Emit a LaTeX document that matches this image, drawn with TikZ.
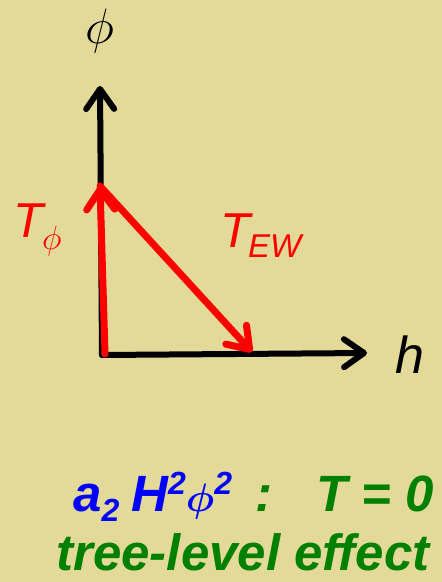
\documentclass[tikz,border=0pt]{standalone}
\usepackage{amsmath}
\usepackage{bm}
\usepackage{graphicx}
\usepackage{fontspec}
\setmainfont{Liberation Sans}
\usetikzlibrary{arrows.meta}

\definecolor{slidebg}{RGB}{227,217,152}
\definecolor{darkgreen}{RGB}{0,128,0}

% math phi scaled up from \Huge
\newcommand{\bigphi}[1]{\scalebox{#1}{\fontsize{24.88}{25}\selectfont$\phi$}}
\newcommand{\bigboldphi}[1]{\scalebox{#1}{\fontsize{24.88}{25}\selectfont$\boldsymbol{\phi}$}}

\begin{document}
\begin{tikzpicture}[x=1pt, y=-1pt,
  barb/.style={-{Straight Barb[length=20pt, width=28pt, line cap=round, line join=round]}},
  axis/.style={barb, draw=black, line width=6pt, line cap=round, line join=round},
  vec/.style={barb, draw=red, line width=7pt, line cap=round, line join=round},
  lbl/.style={inner sep=0pt, font=\fontsize{49}{49}\selectfont\itshape},
  bigtext/.style={inner sep=0pt, font=\fontsize{51}{51}\selectfont\bfseries\itshape}
]
\fill[slidebg] (0,0) rectangle (442,582);

% axes
\coordinate (o) at (102,355);
\coordinate (ytip) at (100,86);
\coordinate (xtip) at (367,353);
\draw[axis] (o) -- (ytip);
\draw[axis] (o) -- (xtip);
\node[inner sep=0pt] (philbl) at (100,31) {\bigphi{2}};
\node[lbl, font=\fontsize{52}{52}\selectfont\itshape] (hlbl) at (410,355) {h};

% temperatures
\coordinate (vbot) at (105,354);
\coordinate (vtop) at (100,186);
\coordinate (etip) at (252,352);
\draw[vec] (vbot) -- (vtop);
\draw[vec] (vtop) -- (etip);
\node[lbl, red, anchor=base west] (tphi) at (13,237)
  {T\kern-1pt\raisebox{-12pt}{\bigphi{1.35}}};
\node[lbl, red, anchor=base west] (tew) at (220,247)
  {T\kern-2pt\raisebox{-10pt}{\fontsize{33}{33}\selectfont EW}};

% bottom text
\node[bigtext, blue, anchor=base west] (coupling) at (73,511)
  {a\raisebox{-10pt}{\fontsize{32}{32}\selectfont 2}\hspace{12pt}H\raisebox{17pt}{\fontsize{32}{32}\selectfont 2}\bigboldphi{1.6}\raisebox{17pt}{\fontsize{32}{32}\selectfont 2}};
\node[bigtext, darkgreen, anchor=base east] (zeroT) at (434,511)
  {:\hspace{44pt}T = 0};
\node[bigtext, darkgreen, anchor=base] (tree) at (243,570) {tree-level effect};
\end{tikzpicture}
\end{document}
